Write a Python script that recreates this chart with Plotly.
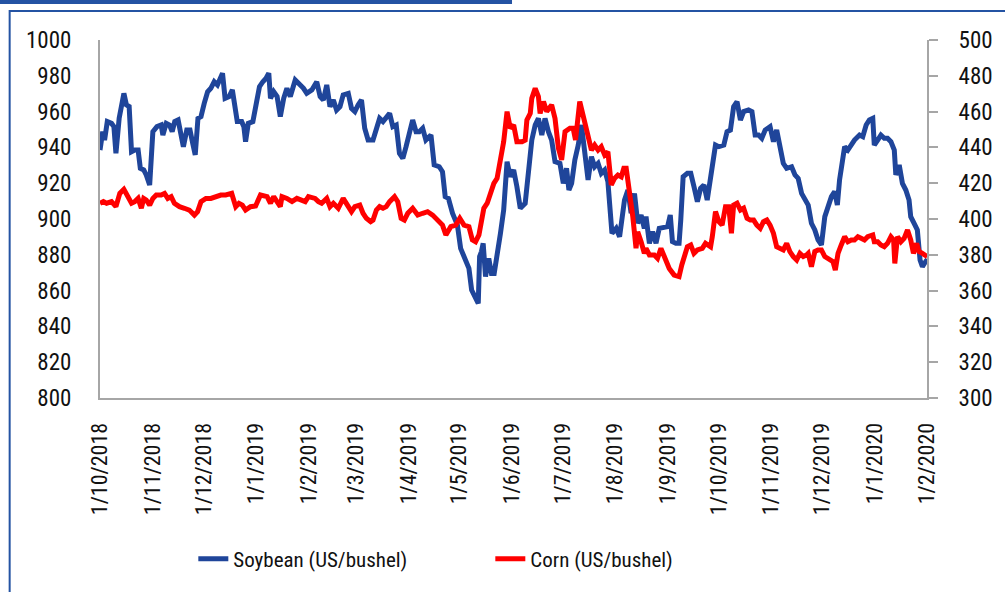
import pandas as pd
import plotly.graph_objects as go

start = pd.Timestamp("2018-10-01")

soy_days = [0, 1.6, 2.7, 4.3, 6.8, 8.2, 9.4, 11.3, 14.1, 15.6, 17.2, 18.6, 20.5, 22.5, 23.8, 25.8, 27.3, 29.3,
            31.2, 33.6, 36.1, 37.1, 39.1, 41.0, 42.6, 44.1, 46.1, 47.8, 49.2, 51.2, 53.1, 54.7, 56.2, 57.8,
            59.6, 61.5, 63.5, 65.4, 67.4, 69.3, 71.3, 72.3, 73.8, 76.2, 78.1, 80.1, 81.0, 83.6, 84.9, 85.9,
            87.5, 90.2, 92.2, 94.1, 96.1, 98.0, 99.6, 100.6, 102.5, 104.5, 106.4, 108.4, 110.3, 112.3, 115.2,
            117.2, 120.1, 122.0, 125.0, 127.9, 129.9, 131.8, 133.8, 135.7, 137.7, 139.6, 141.6, 143.5, 146.5,
            148.4, 150.4, 152.3, 154.3, 156.2, 158.2,
            161.1, 163.1, 165.0, 167.0, 168.9, 170.9, 172.8, 174.8, 176.7, 178.7, 180.6, 182.6, 184.5, 186.5,
            188.4, 190.4, 192.3, 195.3, 197.2, 200.2, 202.1, 203.7, 205.6, 208.0, 210.9, 212.8, 215.8, 217.7,
            219.3, 221.6, 223.2, 224.0, 225.1, 226.1, 227.5, 229.4, 231.0, 232.6, 234.3, 236.3, 238.2, 240.2,
            242.1, 244.1, 246.0, 248.0, 250.9, 252.9, 254.8, 256.8, 258.7, 260.7, 262.6, 264.6, 266.5, 268.5,
            271.4, 273.4, 275.3, 276.7, 278.3, 280.2, 282.2, 284.1, 286.1, 288.0, 290.0, 291.9, 293.9, 295.8,
            297.8, 299.7, 302.1, 304.6, 306.6, 309.5, 311.5, 313.4, 315.4, 317.3, 319.3, 321.2,
            322.2, 324.2, 326.1, 328.1, 330.0, 332.9, 334.9, 336.5, 337.8, 339.8, 341.7, 342.7, 344.1, 346.6,
            348.6, 350.5, 352.5, 354.4, 356.4, 358.3, 361.3, 363.2, 365.2, 368.1, 370.0, 372.0, 373.9, 375.9,
            377.9, 379.8, 382.7, 384.7, 386.6, 388.6, 390.5, 392.5, 395.4, 397.4, 399.3, 401.3, 403.2, 405.2,
            408.1, 410.1, 412.0, 414.0, 415.9, 417.9, 419.8, 421.8, 423.7, 425.7, 427.7, 429.6, 431.6, 433.5,
            435.1, 436.4, 438.4, 439.4, 441.3, 443.3, 445.2, 448.2, 450.1, 452.1, 454.0, 456.0, 456.9, 458.9,
            460.8, 462.8, 464.7, 466.7, 468.7, 469.6, 471.6, 473.5, 475.5, 477.4, 478.4, 480.4, 482.3, 483.9,
            485.3, 487.2, 488.2]
soy_vals = [938.5, 948.8, 944.1, 954.4, 953.4, 951.6, 936.7, 956.2, 970.2, 963.7, 962.8, 937.6, 938.5, 938.5,
            928.3, 927.4, 924.6, 919.0, 948.8, 951.6, 952.5, 946.9, 953.4, 952.5, 948.8, 954.4, 955.3, 946.9,
            940.4, 949.7, 949.7, 942.3, 935.8, 956.2, 957.2, 964.6, 971.1, 973.0, 976.7, 974.9, 979.5, 981.4,
            967.4, 968.4, 972.1, 960.9, 954.4, 954.4, 951.6, 943.2, 953.4, 954.4, 962.8, 973.9, 976.7, 978.6,
            981.4, 967.4, 971.1, 968.4, 957.2, 967.4, 973.0, 968.4, 977.7, 975.8, 973.0, 970.2, 972.1, 976.7,
            968.4, 966.5, 974.9, 962.8, 966.5, 960.9, 962.8, 969.3, 970.2, 961.8, 960.0, 963.7, 966.5, 950.7,
            944.1,
            944.1, 951.6, 956.2, 954.4, 956.2, 959.0, 951.6, 952.5, 936.7, 933.9, 940.4, 948.8, 955.3, 948.8,
            948.8, 950.7, 944.1, 946.9, 930.2, 929.2, 926.4, 912.5, 911.5, 903.2, 896.6, 883.6, 877.1, 872.4,
            860.3, 856.6, 852.9, 879.0, 881.8, 886.4, 867.8, 878.0, 869.6, 869.6, 879.0, 892.0, 905.0, 932.0,
            923.6, 927.4, 918.1, 906.0, 908.8, 927.4, 944.1, 952.5, 956.2, 946.9, 956.2, 948.8, 944.1, 932.0,
            931.1, 919.9, 928.3, 916.2, 919.9, 933.0, 941.3, 952.5, 936.7, 921.8, 934.8, 929.2, 931.1, 925.5,
            927.4, 920.9, 892.0, 894.8, 890.1, 910.6, 916.2, 903.2, 914.3, 897.6, 902.2, 894.8,
            901.3, 886.4, 892.9, 886.4, 894.8, 895.7, 895.7, 902.2, 887.3, 886.4, 886.4, 899.4, 923.6, 925.5,
            925.5, 918.1, 909.7, 917.1, 919.0, 910.6, 927.4, 941.3, 940.4, 941.3, 948.8, 949.7, 962.8, 965.6,
            955.3, 960.0, 960.9, 960.0, 946.9, 946.9, 945.1, 949.7, 951.6, 943.2, 949.7, 938.5, 931.1, 928.3,
            929.2, 924.6, 922.7, 914.3, 910.6, 907.8, 897.6, 893.9, 888.3, 885.5, 901.3, 906.9, 912.5, 915.3,
            907.8, 921.8, 933.0, 940.4, 938.5, 941.3, 944.1, 946.9, 946.0, 952.5, 955.3, 956.2, 941.3, 944.1,
            946.9, 945.1, 945.1, 943.2, 938.5, 924.6, 930.2, 919.9, 916.2, 910.6, 901.3, 897.6, 893.9, 877.1,
            873.4, 876.2, 877.5]

corn_days = [0, 2.0, 3.9, 6.8, 9.4, 11.7, 14.1, 16.0, 18.6, 20.5, 22.5, 24.4, 25.8, 27.3, 29.3, 31.2, 33.2,
             36.1, 38.1, 40.0, 42.0, 43.9, 46.9, 49.8, 52.7, 55.7, 57.6, 59.6, 62.5, 65.4, 68.3, 71.3, 74.2,
             77.7, 80.1, 82.0, 84.0, 85.9, 88.8, 91.8, 94.7, 96.7, 98.6, 100.6, 102.5, 106.4, 107.4, 110.3,
             113.3, 116.2, 119.1, 121.1, 123.0, 126.9, 128.9, 130.8, 133.8, 135.7, 137.7, 140.6, 143.5, 145.5,
             148.4, 150.4, 153.3, 155.2, 157.2, 159.7,
             161.1, 163.1, 165.0, 167.0, 168.9, 170.9, 173.8, 175.7, 177.7, 179.6, 181.6, 184.5, 187.5, 190.4,
             193.3, 196.3, 199.2, 202.1, 204.1, 207.0, 209.9, 212.3, 214.8, 217.7, 219.7, 221.6, 223.6, 225.1,
             226.5, 228.5, 230.4, 232.4, 234.3, 236.3, 238.2, 240.2, 242.1, 244.1, 246.0, 249.0, 250.9, 251.9,
             253.9, 254.8, 256.8, 258.7, 259.7, 261.7, 263.6, 266.5, 268.5, 270.5, 272.4, 274.4, 277.3, 279.2,
             280.6, 283.1, 285.1, 287.0, 289.0, 290.0, 291.9, 293.9, 295.8, 297.8, 299.7, 301.7, 303.6, 305.6,
             307.6, 309.1, 310.5, 312.4, 314.4, 316.3, 317.3, 319.3, 321.2,
             322.2, 324.2, 327.1, 329.0, 331.0, 332.9, 335.9, 338.8, 341.7, 343.3, 344.7, 346.6, 348.6, 350.5,
             352.5, 355.4, 357.3, 360.3, 361.3, 363.2, 365.2, 367.1, 369.1, 371.0, 372.6, 373.9, 375.9, 377.9,
             379.8, 381.8, 383.7, 385.7, 387.6, 389.6, 391.5, 393.5, 395.4, 397.4, 399.3, 401.3, 403.2, 405.2,
             407.1, 409.1, 411.1, 413.0, 415.0, 416.9, 417.9, 419.8, 421.8, 423.7, 425.7, 427.7, 430.6, 432.5,
             433.9, 435.5, 437.4, 439.4, 441.3, 443.3, 445.2, 447.2, 449.1, 451.1, 453.0, 456.0, 456.9, 458.9,
             460.8, 462.8, 464.7, 466.7, 468.3, 469.0, 470.6, 472.6, 474.5, 476.5, 478.4, 480.0, 481.9, 483.3,
             485.3, 488.2]
corn_vals = [408.8, 409.7, 408.8, 409.7, 406.9, 414.3, 416.6, 413.4, 408.8, 409.7, 411.5, 406.0, 411.5, 410.6,
             407.8, 411.5, 413.4, 413.4, 414.3, 411.5, 412.5, 408.8, 406.9, 406.0, 405.0, 402.2, 404.1, 409.7,
             411.5, 411.5, 412.5, 413.4, 413.4, 414.3, 406.9, 408.8, 407.8, 405.0, 406.9, 407.3, 413.4, 412.8,
             412.5, 408.8, 412.5, 406.9, 412.5, 411.5, 409.7, 411.5, 410.6, 409.7, 412.5, 411.5, 409.7, 408.8,
             411.5, 406.9, 408.8, 406.0, 411.5, 408.8, 404.1, 406.9, 407.8, 403.2, 400.4, 398.5,
             399.4, 405.0, 406.9, 406.0, 406.9, 409.7, 412.5, 409.7, 400.4, 399.4, 403.2, 406.0, 402.2, 403.2,
             404.1, 402.2, 399.4, 396.6, 391.1, 395.7, 396.6, 400.4, 396.6, 395.7, 388.3, 387.3, 391.1, 399.4,
             406.0, 408.8, 414.3, 419.9, 422.7, 433.0, 443.2, 460.0, 450.7, 452.5, 443.2, 443.2, 444.1, 455.3,
             459.0, 467.4, 473.0, 468.4, 459.0, 465.6, 460.0, 463.7, 456.2, 439.5, 433.0, 448.8, 450.7, 450.7,
             444.1, 465.6, 458.1, 449.7, 444.1, 438.5, 441.3, 438.5, 440.4, 435.8, 437.6, 419.0, 422.7, 424.6,
             423.6, 428.3, 428.3, 416.2, 401.3, 383.6, 392.9, 387.3, 380.8,
             383.6, 379.9, 379.9, 378.0, 383.6, 379.0, 372.4, 368.7, 367.8, 374.3, 379.9, 384.5, 385.5, 380.8,
             382.7, 383.6, 386.4, 384.5, 390.1, 404.1, 398.5, 396.6, 406.9, 406.9, 392.0, 407.8, 408.8, 405.0,
             406.0, 400.4, 399.4, 399.4, 396.6, 394.8, 398.5, 399.4, 396.6, 392.0, 384.5, 383.6, 382.7, 386.4,
             381.8, 379.0, 377.1, 380.8, 379.0, 379.9, 380.8, 373.4, 381.8, 382.7, 382.7, 379.0, 377.1, 376.2,
             371.5, 380.8, 385.5, 390.1, 387.3, 388.3, 388.3, 390.1, 389.2, 388.3, 390.1, 391.1, 387.3, 387.3,
             385.5, 384.5, 386.4, 390.1, 388.3, 375.2, 390.1, 387.3, 389.2, 393.9, 388.3, 380.8, 386.4, 381.8,
             380.8, 379.0]

tick_dates = ["2018-10-01", "2018-11-01", "2018-12-01", "2019-01-01", "2019-02-01", "2019-03-01",
              "2019-04-01", "2019-05-01", "2019-06-01", "2019-07-01", "2019-08-01", "2019-09-01",
              "2019-10-01", "2019-11-01", "2019-12-01", "2020-01-01", "2020-02-01"]
tick_labels = ["1/10/2018", "1/11/2018", "1/12/2018", "1/1/2019", "1/2/2019", "1/3/2019", "1/4/2019",
               "1/5/2019", "1/6/2019", "1/7/2019", "1/8/2019", "1/9/2019", "1/10/2019", "1/11/2019",
               "1/12/2019", "1/1/2020", "1/2/2020"]

soy_x = start + pd.to_timedelta(soy_days, unit="D")
corn_x = start + pd.to_timedelta(corn_days, unit="D")

FONT = "Roboto Condensed, Liberation Sans Narrow, Roboto, sans-serif"
BLUE = "#1f459a"
AXC = "#a6a6a6"

fig = go.Figure()
fig.add_trace(go.Scatter(x=soy_x, y=soy_vals, mode="lines", name="Soybean (US/bushel)",
                         line=dict(color=BLUE, width=5)))
fig.add_trace(go.Scatter(x=corn_x, y=corn_vals, mode="lines", name="Corn (US/bushel)",
                         line=dict(color="#ff0000", width=5), yaxis="y2"))

L, R, T, B = 100, 933, 40, 398
W, H = 1005, 592
def px(x):
    return (x - L) / (R - L)
def py(y):
    return (B - y) / (B - T)

fig.update_layout(
    width=W, height=H,
    margin=dict(l=L, r=W - R, t=T, b=H - B),
    paper_bgcolor="white", plot_bgcolor="white",
    font=dict(family=FONT, size=22, color="#111111"),
    showlegend=True,
    legend=dict(orientation="h", x=px(194), xanchor="left", y=py(559), yanchor="middle",
                font=dict(size=21), entrywidth=252, entrywidthmode="pixels"),
    xaxis=dict(type="date", range=["2018-10-01", "2020-02-01"], tickvals=tick_dates, ticktext=tick_labels,
               tickangle=-90, showgrid=False, showline=True, linecolor=AXC, linewidth=2, ticks="",
               zeroline=False, ticklabelstandoff=14),
    yaxis=dict(range=[800, 1000], dtick=20, showgrid=False, showline=True, linecolor=AXC, linewidth=2,
               ticks="", zeroline=False, ticklabelstandoff=22, tickfont=dict(size=23)),
    yaxis2=dict(range=[300, 500], dtick=20, overlaying="y", side="right", showgrid=False, showline=True,
                linecolor=AXC, linewidth=2, ticks="outside", ticklen=9, tickcolor=AXC, tickwidth=2,
                zeroline=False, ticklabelstandoff=16, tickfont=dict(size=23)),
    shapes=[
        dict(type="rect", xref="paper", yref="paper", x0=px(9), x1=px(1020), y0=py(11), y1=py(610),
             line=dict(color="#2453a3", width=2), fillcolor="rgba(0,0,0,0)", layer="below"),
        dict(type="rect", xref="paper", yref="paper", x0=px(-5), x1=px(515), y0=py(0), y1=py(4),
             line=dict(width=0), fillcolor="#2453a3", layer="below"),
    ],
)

fig.write_html("out.html", config={"displayModeBar": False},
               post_script="document.body.style.margin='0';document.body.style.overflow='hidden';")
